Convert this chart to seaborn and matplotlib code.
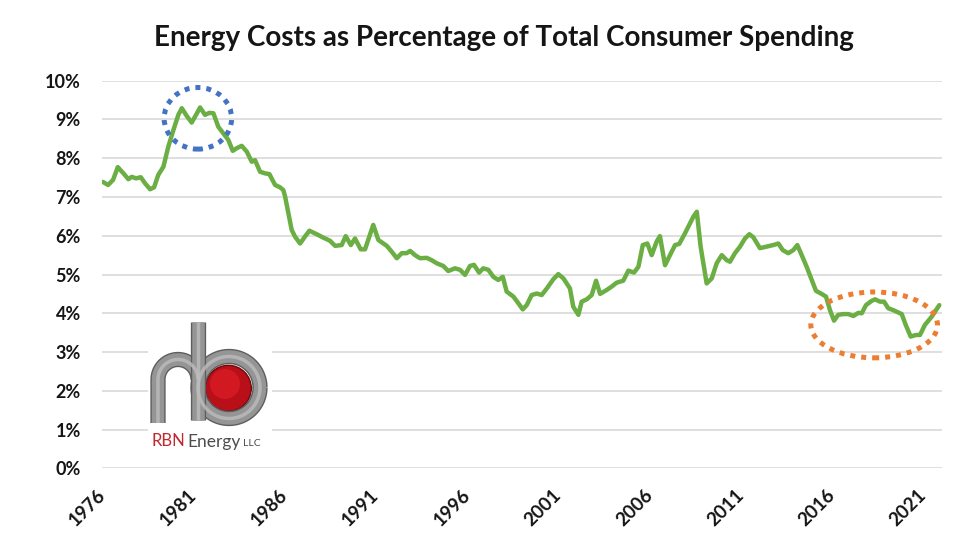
import numpy as np
import pandas as pd
import matplotlib
matplotlib.use("Agg")
import matplotlib.pyplot as plt
import seaborn as sns
from matplotlib.patches import Ellipse, Circle, Rectangle
import matplotlib.patheffects as pe

# ---------------- data ----------------
years = [
    1976.03, 1976.32, 1976.59, 1976.85, 1977.16, 1977.43, 1977.62, 1977.85, 1978.11, 1978.35,
    1978.62, 1978.84, 1979.07, 1979.35, 1979.62, 1979.90, 1980.17, 1980.36, 1980.63, 1980.90,
    1981.14, 1981.36, 1981.63, 1981.87, 1982.09, 1982.36, 1982.67, 1982.91, 1983.15, 1983.37,
    1983.64, 1983.92, 1984.19, 1984.37, 1984.65, 1984.92, 1985.16, 1985.47, 1985.74, 1985.92,
    1986.02, 1986.20, 1986.38, 1986.56, 1986.84, 1987.11, 1987.35, 1987.75, 1988.12, 1988.48,
    1988.76, 1989.12, 1989.34, 1989.62, 1989.85, 1990.16, 1990.40, 1990.85, 1991.13, 1991.59,
    1991.86, 1992.14, 1992.41, 1992.68, 1992.87, 1993.14, 1993.41, 1993.78, 1994.05, 1994.33,
    1994.69, 1994.96, 1995.33, 1995.61, 1995.88, 1996.15, 1996.37, 1996.65, 1996.88, 1997.16,
    1997.43, 1997.70, 1997.95, 1998.16, 1998.53, 1998.80, 1999.04, 1999.26, 1999.53, 1999.81,
    2000.08, 2000.36, 2000.72, 2000.99, 2001.27, 2001.63, 2001.81, 2002.09, 2002.27, 2002.55,
    2002.82, 2003.06, 2003.28, 2003.64, 2003.92, 2004.19, 2004.55, 2004.83, 2005.14, 2005.38,
    2005.62, 2005.87, 2006.11, 2006.38, 2006.56, 2006.84, 2007.11, 2007.39, 2007.62, 2007.93,
    2008.21, 2008.39, 2008.58, 2008.79, 2009.12, 2009.40, 2009.67, 2009.95, 2010.22, 2010.40,
    2010.67, 2010.95, 2011.22, 2011.46, 2011.68, 2012.04, 2012.41, 2012.77, 2013.05, 2013.29,
    2013.59, 2013.87, 2014.09, 2014.33, 2014.60, 2014.88, 2015.11, 2015.42, 2015.66, 2015.88,
    2016.10, 2016.33, 2016.61, 2016.88, 2017.16, 2017.43, 2017.62, 2017.85, 2018.16, 2018.35,
    2018.62, 2018.84, 2019.07, 2019.35, 2019.53, 2019.81, 2020.03, 2020.30, 2020.59, 2020.81,
    2021.08, 2021.45, 2021.87,
]
share_pct = [
    7.39, 7.31, 7.44, 7.77, 7.61, 7.46, 7.52, 7.48, 7.51, 7.35,
    7.20, 7.25, 7.57, 7.78, 8.30, 8.73, 9.12, 9.29, 9.09, 8.92,
    9.12, 9.31, 9.12, 9.17, 9.16, 8.81, 8.62, 8.47, 8.19, 8.26,
    8.32, 8.17, 7.91, 7.95, 7.65, 7.61, 7.59, 7.31, 7.25, 7.18,
    7.01, 6.58, 6.15, 5.98, 5.80, 5.98, 6.13, 6.04, 5.95, 5.87,
    5.74, 5.76, 5.99, 5.76, 5.93, 5.65, 5.65, 6.28, 5.89, 5.74,
    5.59, 5.42, 5.55, 5.55, 5.61, 5.50, 5.42, 5.43, 5.37, 5.29,
    5.22, 5.09, 5.16, 5.12, 4.99, 5.22, 5.25, 5.05, 5.16, 5.12,
    4.94, 4.86, 4.94, 4.56, 4.43, 4.26, 4.10, 4.21, 4.47, 4.51,
    4.47, 4.64, 4.88, 5.01, 4.90, 4.64, 4.17, 3.96, 4.30, 4.36,
    4.47, 4.84, 4.50, 4.60, 4.69, 4.79, 4.84, 5.10, 5.05, 5.20,
    5.76, 5.80, 5.50, 5.85, 5.99, 5.24, 5.50, 5.76, 5.79, 6.06,
    6.32, 6.49, 6.62, 5.72, 4.77, 4.90, 5.29, 5.50, 5.37, 5.33,
    5.55, 5.72, 5.93, 6.04, 5.96, 5.68, 5.72, 5.76, 5.80, 5.63,
    5.55, 5.63, 5.76, 5.50, 5.20, 4.86, 4.58, 4.50, 4.43, 4.08,
    3.81, 3.96, 3.98, 3.98, 3.93, 4.01, 4.00, 4.21, 4.32, 4.36,
    4.30, 4.30, 4.13, 4.08, 4.04, 3.98, 3.70, 3.40, 3.44, 3.44,
    3.70, 3.91, 4.21,
]
x_tick_years = [1976, 1981, 1986, 1991, 1996, 2001, 2006, 2011, 2016, 2021]
y_tick_values = [0, 1, 2, 3, 4, 5, 6, 7, 8, 9, 10]
title = "Energy Costs as Percentage of Total Consumer Spending"

df = pd.DataFrame({"year": years, "share": share_pct})

# ---------------- style ----------------
sns.set_style("white")
plt.rcParams['font.family'] = ['Lato', 'DejaVu Sans']

fig = plt.figure(figsize=(9.8, 5.57), dpi=100)
fig.patch.set_facecolor("white")
ax = fig.add_axes([0.1038, 0.1592, 0.8571, 0.6959])

sns.lineplot(data=df, x="year", y="share", ax=ax, color="#6BAE43",
             linewidth=3.2, solid_joinstyle="round", solid_capstyle="round")

ax.set_xlim(1975.97, 2022.0)
ax.set_ylim(0, 10)
ax.set_xlabel("")
ax.set_ylabel("")
for s in ax.spines.values():
    s.set_visible(False)
ax.yaxis.grid(True, color="#D9D9D9", linewidth=1.2)
ax.xaxis.grid(False)
ax.set_axisbelow(True)
ax.set_yticks(y_tick_values)
ax.set_yticklabels([f"{v}%" for v in y_tick_values], fontsize=13,
                   fontweight="bold", color="#151515")
ax.set_xticks(x_tick_years)
ax.set_xticklabels([str(y) for y in x_tick_years], fontsize=13.5,
                   fontweight="bold", color="#151515", rotation=45,
                   ha="right", va="center", rotation_mode="anchor")
ax.tick_params(axis="y", length=0, pad=15)
ax.tick_params(axis="x", length=0, pad=17)

# highlight ellipses
ax.add_patch(Ellipse((1981.24, 9.03), 3.70, 1.59, fill=False,
                     edgecolor="#4472C4", linewidth=3.6,
                     linestyle=(0, (1, 1.2)), clip_on=False, zorder=5))
ax.add_patch(Ellipse((2018.30, 3.70), 6.94, 1.70, fill=False,
                     edgecolor="#ED7D31", linewidth=3.6,
                     linestyle=(0, (1, 1.2)), clip_on=False, zorder=5))

# title
fig.text(504 / 980, 1 - 45.7 / 557, title, ha="center", va="baseline",
         fontsize=20, fontweight="bold", color="#151515")

# ---------------- logo overlay (pixel coordinates) ----------------
ov = fig.add_axes([0, 0, 1, 1])
ov.set_xlim(0, 980)
ov.set_ylim(557, 0)
ov.axis("off")

ov.add_patch(Rectangle((148, 338), 124, 115, facecolor="white", edgecolor="none", zorder=1))
# red ball
ov.add_patch(Circle((228.3, 388.3), 23, facecolor="#B80F18", edgecolor="#6E0A0A",
                    linewidth=1.0, zorder=2))
ov.add_patch(Circle((225, 384), 15, facecolor="#E8222A", edgecolor="none", alpha=0.55, zorder=2))

pipe_fx = [pe.Stroke(linewidth=11.0, foreground="#5E5E5E"), pe.Normal()]
t = np.linspace(np.pi, 0, 60)
rx = np.concatenate([[158, 158], 178 + 20 * np.cos(t)])
ry = np.concatenate([[423, 379.5], 379.5 - 20 * np.sin(t)])
tb = np.linspace(0, 2 * np.pi, 120)
bx = 229 + 31 * np.cos(tb)
by = 387.5 + 31 * np.sin(tb)
for xs, ys in [(rx, ry), (bx, by), ([198, 198], [322, 420])]:
    ov.plot(xs, ys, color="#959595", linewidth=9.0, solid_capstyle="butt",
            path_effects=pipe_fx, zorder=3)
    ov.plot(xs, ys, color="#BDBDBD", linewidth=2.5, solid_capstyle="butt",
            alpha=0.8, zorder=4)

ov.text(151.7, 446.5, "RBN", color="#C1272D", fontsize=12, va="baseline", ha="left", zorder=5)
ov.text(187, 446.5, "Energy", color="#4D4D4D", fontsize=12.5, va="baseline", ha="left", zorder=5)
ov.text(243, 446.5, "LLC", color="#4D4D4D", fontsize=7.5, va="baseline", ha="left", zorder=5)

fig.savefig("out.png", dpi=100, facecolor="white")
